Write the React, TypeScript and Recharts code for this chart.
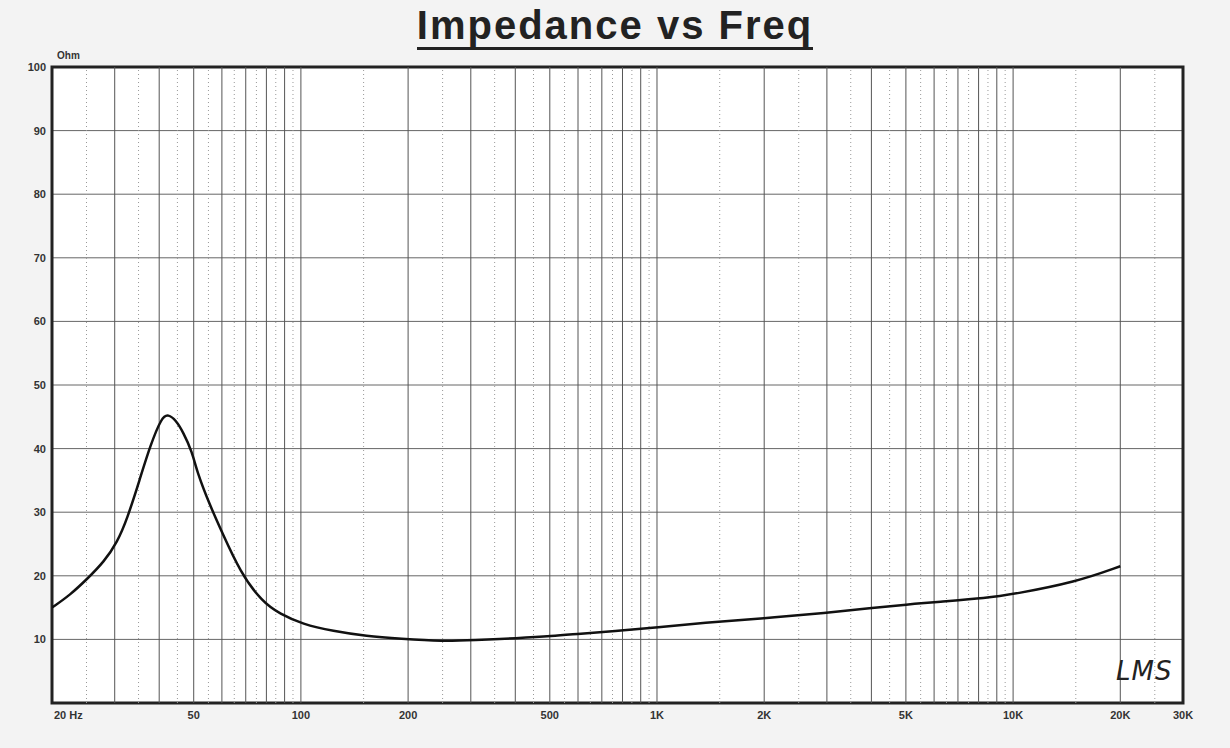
import React from 'react';
import {
  LineChart, Line, XAxis, YAxis, CartesianGrid, ReferenceLine, ReferenceArea
} from 'recharts';

// impedance curve (Hz, Ohm)
const freqs = [20, 22.5, 25.1, 28, 30.5, 32.5, 35.3, 37.7, 40.7, 42.4, 44.5, 46.7, 49.5, 51.1, 55.6, 60, 67.5,
  77.8, 87.4, 101, 123, 153, 190, 251, 305, 405, 507, 608, 754, 1007, 1349, 1986, 3008,
  3972, 5044, 6125, 8460, 10000, 15000, 20000];
const ohms = [15.0, 17.0, 19.5, 22.2, 25.3, 28.9, 35.2, 40.4, 45.0, 45.4, 44.5, 42.6, 39.5, 36.3, 31.0, 26.9, 20.6,
  15.9, 14.0, 12.4, 11.3, 10.5, 10.1, 9.7, 9.9, 10.2, 10.5, 10.9, 11.3, 11.9, 12.6, 13.3, 14.2,
  14.9, 15.5, 15.9, 16.5, 17.1, 19.0, 21.5];

const xTicks = [20, 50, 100, 200, 500, 1000, 2000, 5000, 10000, 20000, 30000];
const xTickLabels = ['20 Hz', '50', '100', '200', '500', '1K', '2K', '5K', '10K', '20K', '30K'];
const yTicks = [10, 20, 30, 40, 50, 60, 70, 80, 90, 100];

const majorGrid = [30, 40, 50, 60, 70, 80, 90, 100, 200, 300, 400, 500, 600, 700, 800, 900,
  1000, 2000, 3000, 4000, 5000, 6000, 7000, 8000, 9000, 10000, 20000];
const minorGrid = [25, 35, 45, 55, 65, 75, 85, 95, 150, 250, 350, 450, 550, 650, 750, 850, 950,
  1500, 2500, 3500, 4500, 5500, 6500, 7500, 8500, 9500, 15000, 25000];

const data = freqs.map((f, i) => ({ f, z: ohms[i] }));

const XTick = (props: any) => {
  const { x, y, payload } = props;
  const i = xTicks.indexOf(payload.value);
  return (
    <text x={i === 0 ? x + 2 : x} y={y + 16} textAnchor={i === 0 ? 'start' : 'middle'}
      fontSize={11} fontWeight="bold" fontFamily="Arial, 'Liberation Sans', sans-serif" fill="#333">
      {xTickLabels[i]}
    </text>
  );
};

const YTick = (props: any) => {
  const { x, y, payload } = props;
  return (
    <text x={x} y={y + 4} textAnchor="end" fontSize={11} fontWeight="bold"
      fontFamily="Arial, 'Liberation Sans', sans-serif" fill="#333">
      {payload.value}
    </text>
  );
};

export default function App() {
  return (
    <div style={{ position: 'absolute', left: 0, top: 0, width: 1230, height: 748, background: '#f3f3f3' }}>
      <div style={{
        position: 'absolute', left: 0, top: 3, width: 1230, textAlign: 'center',
        fontFamily: "Arial, 'Liberation Sans', sans-serif", fontWeight: 'bold', fontSize: 40,
        letterSpacing: 2, color: '#222', lineHeight: '44px'
      }}>
        <span style={{ borderBottom: '3px solid #222', paddingBottom: 0 }}>Impedance vs Freq</span>
      </div>
      <div style={{
        position: 'absolute', left: 57, top: 50, fontFamily: "Arial, 'Liberation Sans', sans-serif",
        fontWeight: 'bold', fontSize: 10, color: '#333'
      }}>Ohm</div>
      <LineChart width={1230} height={748} data={data}
        margin={{ top: 67, right: 47, bottom: 0, left: 0 }}>
        <CartesianGrid vertical={false} stroke="#666" strokeWidth={1} fill="#fff" fillOpacity={1} />
        {minorGrid.map(v => (
          <ReferenceLine key={'m' + v} x={v} stroke="#999" strokeDasharray="1 3" strokeWidth={1} />
        ))}
        {majorGrid.map(v => (
          <ReferenceLine key={'M' + v} x={v} stroke="#555" strokeWidth={1} />
        ))}
        <XAxis dataKey="f" type="number" scale="log" domain={[20, 30000]} ticks={xTicks}
          allowDataOverflow height={45} tickLine={false} axisLine={false} tickSize={0}
          tickMargin={0} tick={<XTick />} interval={0} />
        <YAxis type="number" domain={[0, 100]} ticks={yTicks} width={52} tickLine={false}
          axisLine={false} tickSize={0} tickMargin={6} tick={<YTick />} interval={0} />
        <ReferenceArea x1={20} x2={30000} y1={0} y2={100} fill="none" stroke="#222"
          strokeWidth={3} ifOverflow="visible" />
        <Line type="basis" dataKey="z" stroke="#111" strokeWidth={2.5} dot={false}
          isAnimationActive={false} />
      </LineChart>
      <div style={{
        position: 'absolute', left: 1116, top: 656, fontFamily: "'DejaVu Sans', sans-serif",
        fontStyle: 'italic', fontSize: 26, color: '#222', letterSpacing: 1
      }}>LMS</div>
    </div>
  );
}
